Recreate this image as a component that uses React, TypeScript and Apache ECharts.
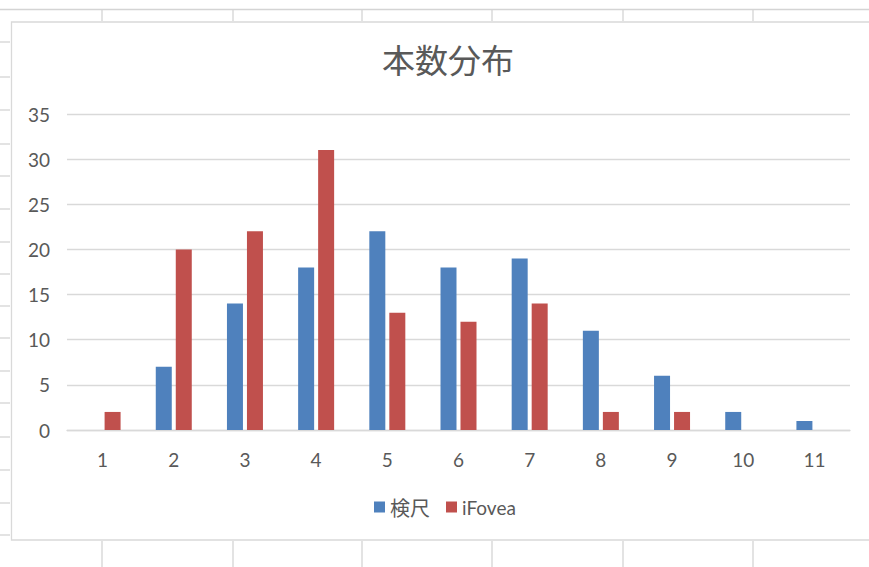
import React, { useEffect, useRef } from 'react';
import * as echarts from 'echarts';

// Log-count distribution: two measurement methods per category
const categories = ['1', '2', '3', '4', '5', '6', '7', '8', '9', '10', '11'];
const kenjakuCounts = [0, 7, 14, 18, 22, 18, 19, 11, 6, 2, 1];
const ifoveaCounts = [2, 20, 22, 31, 13, 12, 14, 2, 2, 0, 0];
const seriesNames = ['検尺', 'iFovea'];

// Worksheet cell borders drawn around the embedded chart
const sheetColumnX = [102, 233, 362, 492, 623, 753];
const sheetRowY = [42, 77, 110, 144, 176, 209, 242, 274, 306, 338, 371, 403, 437, 470, 503, 535];

const TEXT_COLOR = '#595959';
const GRID_COLOR = '#d9d9d9';
const SHEET_COLOR = '#d4d4d4';
const LATIN_FONT = 'Lato, "Noto Sans", sans-serif';
const CJK_FONT = '"Noto Sans CJK JP", "Noto Sans CJK SC", sans-serif';

function buildSheetGraphics() {
  const els: any[] = [];
  els.push({
    type: 'line',
    shape: { x1: 0, y1: 9.5, x2: 869, y2: 9.5 },
    style: { stroke: SHEET_COLOR, lineWidth: 1.5 },
    silent: true,
  });
  sheetColumnX.forEach((x) => {
    els.push({
      type: 'line',
      shape: { x1: x, y1: 10, x2: x, y2: 21 },
      style: { stroke: SHEET_COLOR, lineWidth: 1.3 },
      silent: true,
    });
    els.push({
      type: 'line',
      shape: { x1: x, y1: 541, x2: x, y2: 567 },
      style: { stroke: SHEET_COLOR, lineWidth: 1.3 },
      silent: true,
    });
  });
  sheetRowY.forEach((y) => {
    els.push({
      type: 'line',
      shape: { x1: 0, y1: y, x2: 10, y2: y },
      style: { stroke: SHEET_COLOR, lineWidth: 1.3 },
      silent: true,
    });
  });
  // chart area border
  els.push({
    type: 'rect',
    shape: { x: 11.5, y: 22, width: 900, height: 518 },
    style: { fill: 'none', stroke: GRID_COLOR, lineWidth: 1.3 },
    silent: true,
  });
  return els;
}

export default function App() {
  const ref = useRef<HTMLDivElement>(null);

  useEffect(() => {
    if (!ref.current) return;
    const chart = echarts.init(ref.current, null, { renderer: 'svg' });
    chart.setOption({
      animation: false,
      backgroundColor: '#ffffff',
      color: ['#4f81bd', '#c0504d'],
      graphic: buildSheetGraphics(),
      title: {
        text: '本数分布',
        left: 443,
        top: 37,
        textAlign: 'center',
        textStyle: {
          fontFamily: CJK_FONT,
          fontSize: 33,
          fontWeight: 'normal',
          color: TEXT_COLOR,
        },
      },
      legend: {
        data: seriesNames,
        left: 369,
        top: 492,
        icon: 'rect',
        itemWidth: 11,
        itemHeight: 11,
        itemGap: 16,
        formatter: (name: string) => (/[^\x00-\x7f]/.test(name) ? `{cjk|${name}}` : name),
        textStyle: {
          fontFamily: LATIN_FONT,
          fontSize: 19,
          color: TEXT_COLOR,
          rich: {
            cjk: { fontFamily: CJK_FONT, fontSize: 20, color: TEXT_COLOR },
          },
        },
      },
      grid: { left: 67, right: 19, top: 114, bottom: 137, containLabel: false },
      xAxis: {
        type: 'category',
        data: categories,
        axisLine: { show: true, lineStyle: { color: GRID_COLOR, width: 1.3 } },
        axisTick: { show: false },
        axisLabel: {
          margin: 20,
          fontFamily: LATIN_FONT,
          fontSize: 19,
          color: TEXT_COLOR,
        },
      },
      yAxis: {
        type: 'value',
        min: 0,
        max: 35,
        interval: 5,
        axisLine: { show: false },
        axisTick: { show: false },
        splitLine: { lineStyle: { color: GRID_COLOR, width: 1.3 } },
        axisLabel: {
          margin: 17,
          fontFamily: LATIN_FONT,
          fontSize: 19,
          color: TEXT_COLOR,
        },
      },
      series: [
        {
          name: seriesNames[0],
          type: 'bar',
          data: kenjakuCounts,
          barWidth: 16,
          barGap: '25%',
        },
        {
          name: seriesNames[1],
          type: 'bar',
          data: ifoveaCounts,
          barWidth: 16,
          barGap: '25%',
        },
      ],
    });
    return () => chart.dispose();
  }, []);

  return (
    <div
      ref={ref}
      style={{ position: 'absolute', left: 0, top: 0, width: 869, height: 567, background: '#fff' }}
    />
  );
}
